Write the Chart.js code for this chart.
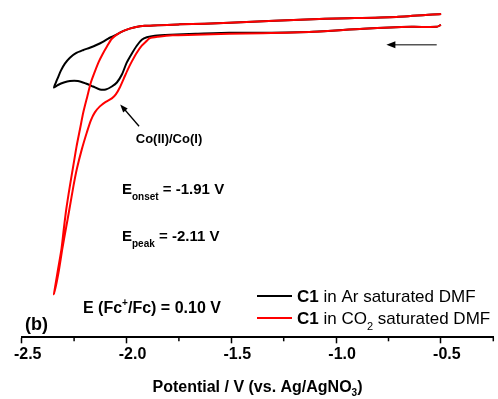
<!DOCTYPE html>
<html>
<head>
<meta charset="utf-8">
<script src="https://cdn.jsdelivr.net/npm/chart.js@4.4.0/dist/chart.umd.min.js"></script>
<style>
  html, body { margin: 0; padding: 0; background: #fff; }
  canvas { display: block; }
</style>
</head>
<body>
<canvas id="cv" width="498" height="399"></canvas>
<script>
// potential (V vs. Ag/AgNO3) and current (arb. units)
const arPotential = [-0.50, -0.52, -0.64, -0.87, -1.11, -1.35, -1.51, -1.67, -1.79, -1.865,
  -1.903, -1.927, -1.951, -1.975, -1.999, -2.022, -2.046, -2.070, -2.099, -2.127,
  -2.160, -2.194, -2.232, -2.270, -2.299, -2.327, -2.346,
  -2.337, -2.327, -2.313, -2.294, -2.270, -2.241, -2.208, -2.175, -2.141, -2.113,
  -2.089, -2.065, -2.041, -2.008, -1.960, -1.913, -1.746, -1.508, -1.080, -0.713, -0.499];
const arCurrent = [-1.0, -1.4, -1.4, -1.8, -2.4, -2.6, -2.6, -2.8, -3.0, -3.2,
  -3.5, -4.0, -5.2, -6.8, -8.6, -11.0, -12.6, -13.4, -14.0, -14.0,
  -13.4, -12.8, -12.3, -12.3, -12.6, -13.1, -13.6,
  -12.6, -11.6, -10.2, -8.8, -7.6, -6.7, -6.1, -5.6, -5.0, -4.4,
  -3.8, -3.3, -2.8, -2.1, -1.5, -1.2, -0.9, -0.6, 0.2, 0.6, 1.2];

const co2Potential = [-0.50, -0.52, -0.64, -0.87, -1.11, -1.35, -1.51, -1.67, -1.78, -1.85,
  -1.89, -1.903, -1.927, -1.951, -1.975, -1.994, -2.013, -2.032, -2.051, -2.070,
  -2.099, -2.127, -2.151, -2.170, -2.189, -2.213, -2.237, -2.253, -2.272, -2.289,
  -2.306, -2.325, -2.346,
  -2.330, -2.310, -2.299, -2.287, -2.270, -2.254, -2.238, -2.222, -2.206, -2.187,
  -2.170, -2.151, -2.132, -2.113, -2.094, -2.070, -2.041, -2.008, -1.960, -1.913,
  -1.746, -1.508, -1.080, -0.713, -0.499];
const co2Current = [-1.0, -1.4, -1.4, -1.8, -2.4, -2.7, -2.8, -3.0, -3.1, -3.4,
  -3.7, -4.2, -5.2, -6.6, -8.4, -10.0, -11.8, -13.6, -15.0, -15.8,
  -16.5, -17.4, -18.6, -20.2, -22.6, -26.0, -30.0, -33.4, -38.0, -42.0,
  -46.0, -51.0, -55.2,
  -51.0, -46.0, -42.0, -38.0, -33.4, -29.4, -25.4, -22.0, -18.6, -15.4,
  -12.6, -10.4, -8.4, -6.8, -5.4, -3.8, -2.8, -2.1, -1.5, -1.2,
  -0.9, -0.6, 0.2, 0.6, 1.2];

const xTicks = [-2.5, -2.25, -2.0, -1.75, -1.5, -1.25, -1.0, -0.75, -0.5, -0.25];
const seriesNames = ['C1 in Ar saturated DMF', 'C1 in CO2 saturated DMF'];

const FONT = '"Liberation Sans", Arial, sans-serif';

function toPoints(xs, ys) {
  return xs.map((v, i) => ({ x: v, y: ys[i] }));
}

function isMajor(v) {
  return Math.abs(v * 2 - Math.round(v * 2)) < 1e-6;
}

// draw a row of text pieces with different fonts / offsets
function drawRuns(ctx, x, y, runs) {
  ctx.textAlign = 'left';
  ctx.textBaseline = 'alphabetic';
  let cx = x;
  runs.forEach(r => {
    ctx.font = r.font;
    ctx.fillText(r.t, cx, y + (r.dy || 0));
    cx += ctx.measureText(r.t).width;
  });
  return cx - x;
}

function runsWidth(ctx, runs) {
  let w = 0;
  runs.forEach(r => { ctx.font = r.font; w += ctx.measureText(r.t).width; });
  return w;
}

function arrow(ctx, x1, y1, x2, y2, len, half, lineColor) {
  const a = Math.atan2(y2 - y1, x2 - x1);
  ctx.strokeStyle = lineColor;
  ctx.lineWidth = 1.3;
  ctx.beginPath();
  ctx.moveTo(x1, y1);
  ctx.lineTo(x2 - Math.cos(a) * len * 0.6, y2 - Math.sin(a) * len * 0.6);
  ctx.stroke();
  ctx.fillStyle = '#000';
  ctx.beginPath();
  ctx.moveTo(x2, y2);
  ctx.lineTo(x2 - Math.cos(a) * len - Math.sin(a) * half, y2 - Math.sin(a) * len + Math.cos(a) * half);
  ctx.lineTo(x2 - Math.cos(a) * len + Math.sin(a) * half, y2 - Math.sin(a) * len - Math.cos(a) * half);
  ctx.closePath();
  ctx.fill();
}

const annotate = {
  id: 'annotate',
  afterDraw(chart) {
    const { ctx, scales: { x, y } } = chart;
    ctx.save();

    // minor ticks (shorter than the major ones)
    ctx.strokeStyle = '#000';
    ctx.lineWidth = 1.5;
    xTicks.filter(v => !isMajor(v)).forEach(v => {
      const px = x.getPixelForValue(v);
      ctx.beginPath();
      ctx.moveTo(px, x.top);
      ctx.lineTo(px, x.top + 4);
      ctx.stroke();
    });

    // scan direction arrow
    arrow(ctx, x.getPixelForValue(-0.52), y.getPixelForValue(-5.0),
      x.getPixelForValue(-0.76), y.getPixelForValue(-5.0), 9, 3.5, '#555');
    // Co(II)/Co(I) pointer
    arrow(ctx, x.getPixelForValue(-1.94), y.getPixelForValue(-21.4),
      x.getPixelForValue(-2.03), y.getPixelForValue(-17.0), 8, 3, '#000');

    ctx.fillStyle = '#000';
    ctx.font = 'bold 13px ' + FONT;
    ctx.textAlign = 'center';
    ctx.textBaseline = 'middle';
    ctx.fillText('Co(II)/Co(I)', 169, 139);

    const big = 'bold 15px ' + FONT;
    const sub = 'bold 10px ' + FONT;
    drawRuns(ctx, 122, 193.5, [{ t: 'E', font: big }, { t: 'onset', font: sub, dy: 6 }, { t: ' = -1.91 V', font: big }]);
    drawRuns(ctx, 122, 240.5, [{ t: 'E', font: big }, { t: 'peak', font: sub, dy: 6 }, { t: ' = -2.11 V', font: big }]);

    const fc = 'bold 16px ' + FONT;
    drawRuns(ctx, 83, 312.5, [{ t: 'E (Fc', font: fc }, { t: '+', font: 'bold 10px ' + FONT, dy: -7 }, { t: '/Fc) = 0.10 V', font: fc }]);

    drawRuns(ctx, 25, 329.5, [{ t: '(b)', font: 'bold 18px ' + FONT }]);

    // legend
    const lb = 'bold 17px ' + FONT;
    const ln = '17px ' + FONT;
    ctx.lineWidth = 2;
    ctx.strokeStyle = '#000';
    ctx.beginPath(); ctx.moveTo(257, 296); ctx.lineTo(292, 296); ctx.stroke();
    ctx.strokeStyle = '#ff0000';
    ctx.beginPath(); ctx.moveTo(257, 318); ctx.lineTo(292, 318); ctx.stroke();
    drawRuns(ctx, 297, 302, [{ t: 'C1', font: lb }, { t: ' in Ar saturated DMF', font: ln }]);
    drawRuns(ctx, 297, 324, [{ t: 'C1', font: lb }, { t: ' in CO', font: ln }, { t: '2', font: '11px ' + FONT, dy: 6 }, { t: ' saturated DMF', font: ln }]);

    // axis title
    const tf = 'bold 16px ' + FONT;
    const title = [{ t: 'Potential / V (vs. Ag/AgNO', font: tf }, { t: '3', font: 'bold 10px ' + FONT, dy: 4 }, { t: ')', font: tf }];
    const tw = runsWidth(ctx, title);
    drawRuns(ctx, 257.5 - tw / 2, 392, title);

    ctx.restore();
  }
};

new Chart(document.getElementById('cv'), {
  type: 'scatter',
  data: {
    datasets: [
      {
        label: seriesNames[0],
        data: toPoints(arPotential, arCurrent),
        showLine: true,
        borderColor: '#000',
        borderWidth: 2,
        pointRadius: 0,
        tension: 0.25,
        fill: false,
        clip: false,
        order: 1
      },
      {
        label: seriesNames[1],
        data: toPoints(co2Potential, co2Current),
        showLine: true,
        borderColor: '#ff0000',
        borderWidth: 2,
        pointRadius: 0,
        tension: 0.25,
        fill: false,
        clip: false,
        order: 0
      }
    ]
  },
  options: {
    responsive: false,
    animation: false,
    layout: { padding: { left: 21.7, right: 4.7, top: 0, bottom: 32.5 } },
    plugins: { legend: { display: false }, tooltip: { enabled: false } },
    scales: {
      x: {
        type: 'linear',
        min: -2.5,
        max: -0.25,
        afterBuildTicks: scale => { scale.ticks = xTicks.map(v => ({ value: v })); },
        border: { display: true, color: '#000', width: 2 },
        grid: {
          drawOnChartArea: false,
          drawTicks: true,
          tickLength: 6,
          tickWidth: 1.5,
          tickColor: c => (c.tick && isMajor(c.tick.value)) ? '#000' : 'rgba(0,0,0,0)'
        },
        ticks: {
          autoSkip: false,
          maxRotation: 0,
          padding: 2,
          labelOffset: 6,
          color: '#000',
          font: { family: FONT, size: 16, weight: 'bold' },
          callback: v => isMajor(v) ? v.toFixed(1) : ''
        }
      },
      y: {
        display: false,
        min: -63.86,
        max: 4
      }
    }
  },
  plugins: [annotate]
});
</script>
</body>
</html>
